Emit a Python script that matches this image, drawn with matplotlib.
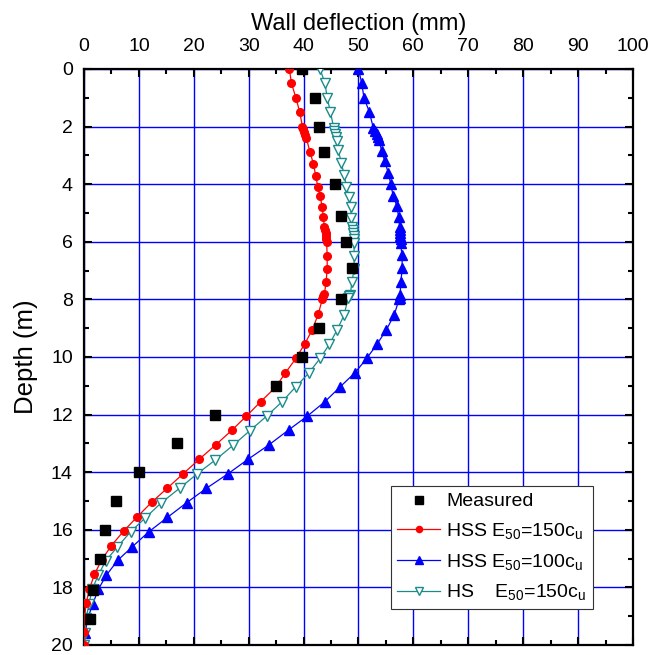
import numpy as np
import matplotlib.pyplot as plt
from matplotlib.ticker import MultipleLocator

plt.rcParams['font.family'] = ['Liberation Sans', 'DejaVu Sans']
plt.rcParams['mathtext.fontset'] = 'custom'
plt.rcParams['mathtext.rm'] = 'Liberation Sans'
plt.rcParams['mathtext.it'] = 'Liberation Sans'

# measured wall deflection
meas_depth = [0, 1.0, 2.0, 2.9, 4.0, 5.1, 6.0, 6.9, 8.0, 9.0, 10.0, 11.0, 12.0, 13.0,
              14.0, 15.0, 16.0, 17.0, 18.1, 19.1]
meas_defl = [39.8, 42.0, 42.9, 43.8, 45.8, 46.9, 47.8, 48.9, 46.9, 42.9, 39.8, 35.0, 23.9, 16.9,
             10.1, 5.9, 3.9, 2.9, 1.7, 1.1]

# HSS E50=150cu
hss150_depth = [0.0, 0.5, 1.0, 1.5, 2.0, 2.1, 2.2, 2.3, 2.4, 2.9, 3.3, 3.7, 4.1, 4.4, 4.8,
                5.15, 5.5, 5.6, 5.7, 5.8, 5.9, 6.0, 6.5, 6.95, 7.4, 7.8, 7.9, 8.0, 8.5,
                9.05, 9.55, 10.05, 10.55, 11.05, 11.55, 12.05, 12.55, 13.05, 13.55, 14.05,
                14.55, 15.05, 15.55, 16.05, 16.55, 17.05, 17.55, 18.05, 18.55, 19.05, 19.55, 20.0]
hss150_defl = [37.4, 37.8, 38.6, 39.3, 39.8, 39.9, 40.1, 40.3, 40.5, 41.2, 41.8, 42.2, 42.6, 43.0, 43.4,
               43.6, 43.8, 43.9, 44.0, 44.0, 44.1, 44.2, 44.3, 44.3, 44.1, 43.8, 43.6, 43.4, 42.7,
               41.6, 40.2, 38.6, 36.7, 34.9, 32.2, 29.6, 26.9, 24.0, 21.0, 18.1,
               15.2, 12.3, 9.7, 7.2, 5.0, 3.2, 1.9, 1.0, 0.4, 0.1, 0.0, 0.0]

# HSS E50=100cu
hss100_depth = [0.0, 0.5, 1.0, 1.5, 2.05, 2.15, 2.25, 2.35, 2.45, 2.85, 3.2, 3.6, 4.0, 4.4, 4.75,
                5.13, 5.5, 5.6, 5.7, 5.8, 5.9, 6.05, 6.46, 6.92, 7.38, 7.85, 7.95, 8.0, 8.54,
                9.05, 9.55, 10.05, 10.54, 11.03, 11.55, 12.05, 12.53, 13.05, 13.55, 14.06,
                14.56, 15.06, 15.57, 16.07, 16.59, 17.05, 17.57, 18.07, 18.58, 19.07, 19.6, 20.0]
hss100_defl = [50.0, 50.6, 51.0, 52.0, 52.7, 53.0, 53.3, 53.6, 53.8, 54.2, 54.8, 55.4, 55.9, 56.3, 57.0,
               57.3, 57.5, 57.5, 57.6, 57.6, 57.7, 57.7, 57.9, 58.0, 57.7, 57.6, 57.5, 57.4, 56.5,
               55.1, 53.4, 51.5, 49.4, 46.7, 43.9, 40.7, 37.3, 33.7, 29.9, 26.2,
               22.3, 18.7, 15.2, 11.8, 8.8, 6.2, 4.1, 2.6, 1.6, 0.7, 0.2, 0.0]

# HS E50=150cu
hs_depth = [0.0, 0.5, 1.0, 1.5, 2.05, 2.15, 2.25, 2.35, 2.5, 2.8, 3.28, 3.68, 4.09, 4.43, 4.78,
            5.18, 5.5, 5.6, 5.7, 5.8, 5.9, 6.05, 6.5, 6.96, 7.4, 7.85, 7.9, 7.95, 8.54,
            9.06, 9.56, 10.05, 10.57, 11.03, 11.55, 12.05, 12.56, 13.06, 13.58, 14.06,
            14.56, 15.06, 15.58, 16.07, 16.59, 17.07, 17.57, 18.07, 18.58, 19.07, 19.6, 20.0]
hs_defl = [43.0, 43.9, 44.3, 44.9, 45.5, 45.6, 45.8, 45.9, 46.1, 46.3, 46.9, 47.4, 47.8, 48.3, 48.6,
           48.7, 48.9, 49.0, 49.0, 49.1, 49.1, 49.2, 49.2, 49.2, 48.8, 48.5, 48.3, 48.1, 47.4,
           46.1, 44.7, 43.0, 40.9, 38.6, 36.1, 33.3, 30.2, 27.2, 23.9, 20.6,
           17.4, 14.1, 11.2, 8.5, 6.1, 4.0, 2.6, 1.5, 0.9, 0.4, 0.2, 0.0]

fig = plt.figure(figsize=(6.49, 6.55), dpi=100)
ax = fig.add_axes([0.1294, 0.0153, 0.8459, 0.8794])

ax.grid(True, color='#0000ff', linewidth=1.0)
ax.set_axisbelow(True)

ax.plot(meas_defl, meas_depth, 's', color='black', markersize=7.5, label='Measured', zorder=5)
ax.plot(hss150_defl, hss150_depth, '-o', color='#ff0000', linewidth=0.9, markersize=5.5,
        label='HSS E$_{50}$=150c$_{\\mathrm{u}}$', zorder=4)
ax.plot(hss100_defl, hss100_depth, '-^', color='#0000ff', linewidth=0.9, markersize=6.5,
        label='HSS E$_{50}$=100c$_{\\mathrm{u}}$', zorder=3)
ax.plot(hs_defl, hs_depth, '-v', color='#1a8a8a', linewidth=0.9, markersize=6.5,
        markerfacecolor='white', markeredgewidth=1.0,
        label='HS    E$_{50}$=150c$_{\\mathrm{u}}$', zorder=3)

ax.set_xlim(0, 100)
ax.set_ylim(20, 0)
ax.xaxis.set_major_locator(MultipleLocator(10))
ax.xaxis.set_minor_locator(MultipleLocator(5))
ax.yaxis.set_major_locator(MultipleLocator(2))
ax.yaxis.set_minor_locator(MultipleLocator(1))
ax.xaxis.tick_top()
ax.xaxis.set_label_position('top')
ax.tick_params(which='both', direction='in', top=True, bottom=True, left=True, right=True,
               labeltop=True, labelbottom=False, labelsize=14, width=1.5)
ax.tick_params(which='major', length=6)
ax.tick_params(which='minor', length=3.5)
ax.tick_params(axis='x', which='major', pad=10)
ax.tick_params(axis='y', which='major', pad=8)
for s in ax.spines.values():
    s.set_linewidth(1.6)

ax.set_xlabel('Wall deflection (mm)', fontsize=17, labelpad=6)
ax.set_ylabel('Depth (m)', fontsize=18.5, labelpad=9)

leg = ax.legend(loc='lower right', bbox_to_anchor=(0.927, 0.062), fontsize=14,
                fancybox=False, edgecolor='#333333', framealpha=1, handlelength=2.2,
                borderpad=0.35, labelspacing=0.55, handletextpad=0.3, borderaxespad=0,
                markerscale=0.8)
leg.get_frame().set_linewidth(0.8)

fig.savefig('out.png', dpi=100)
